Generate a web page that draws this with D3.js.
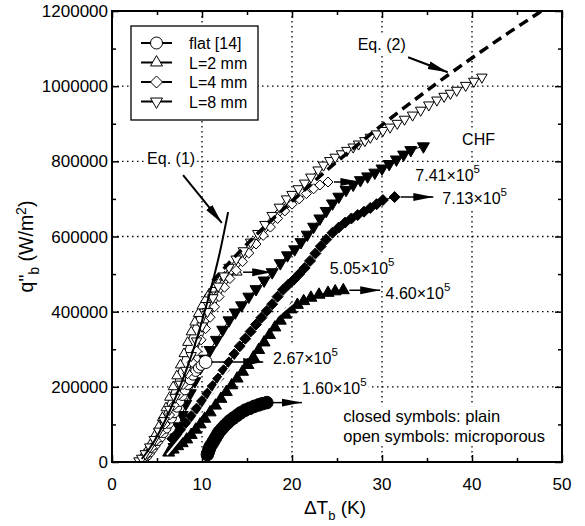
<!DOCTYPE html>
<html>
<head>
<meta charset="utf-8">
<script src="https://cdn.jsdelivr.net/npm/d3@7"></script>
<style>
  body { margin: 0; background: #fff; }
  text { font-family: "Liberation Sans", Arial, Helvetica, sans-serif; fill: #000; }
</style>
</head>
<body>
<svg id="chart" width="585" height="526"></svg>
<script>
// boiling curves, [deltaT (K), q (W/m2)]
const flatPlain = [[10.6,20000],[10.7,27000],[10.8,34000],[10.9,41000],[11.1,48000],[11.3,56000],[11.5,64000],
  [11.7,72000],[11.9,80000],[12.2,88000],[12.5,96000],[12.8,103000],[13.1,110000],[13.5,117000],[13.9,124000],
  [14.3,131000],[14.8,138000],[15.3,143000],[15.8,148000],[16.3,152000],[16.7,155000],[17.2,158000]];

const flatMicro = [[3.2,2000],[3.4,6000],[3.6,11000],[3.9,18000],[4.2,27000],[4.5,37000],[4.8,47000],[5.1,57000],
  [5.4,67000],[5.7,78000],[6.0,90000],[6.3,103000],[6.6,117000],[6.9,131000],[7.2,146000],[7.5,161000],
  [7.8,177000],[8.1,192000],[8.4,206000],[8.7,219000],[9.0,231000],[9.3,241000],[9.6,250000],[9.9,257000],[10.4,266000]];

const l2Plain = [[6.3,25000],[6.8,33000],[7.3,42000],[7.8,50000],[8.3,60000],[8.8,72000],[9.3,86000],[9.8,100000],
  [10.3,115000],[10.9,132000],[11.5,150000],[12.1,168000],[12.7,186000],[13.3,204000],[13.9,222000],[14.5,240000],
  [15.1,258000],[15.7,278000],[16.3,298000],[16.9,318000],[17.5,338000],[18.1,358000],[18.7,376000],[19.3,392000],
  [19.9,406000],[20.6,418000],[21.3,428000],[22.1,437000],[23.0,445000],[24.0,450000],[24.8,454000],[25.7,457000]];

const l2Micro = [[3.0,3000],[3.3,10000],[3.6,20000],[4.0,35000],[4.4,52000],[4.8,72000],[5.2,94000],[5.6,118000],
  [6.0,144000],[6.4,172000],[6.8,200000],[7.2,229000],[7.6,258000],[8.0,288000],[8.4,318000],[8.8,346000],
  [9.2,372000],[9.6,395000],[10.0,415000],[10.4,432000],[10.8,447000],[11.2,460000],[11.6,472000],[12.0,482000],
  [12.5,492000],[13.9,505000]];

const l4Plain = [[6.7,62000],[7.1,72000],[7.6,86000],[8.2,104000],[8.8,122000],[9.4,142000],[10.0,162000],
  [10.6,182000],[11.2,202000],[11.8,222000],[12.4,244000],[13.0,265000],[13.6,287000],[14.2,308000],[14.8,328000],
  [15.4,347000],[16.0,366000],[16.6,384000],[17.2,402000],[17.8,420000],[18.4,440000],[19.0,458000],[19.6,472000],
  [20.2,485000],[20.8,500000],[21.4,516000],[22.0,535000],[22.6,555000],[23.2,574000],[23.8,592000],[24.5,610000],
  [25.2,624000],[25.9,637000],[26.6,648000],[27.3,657000],[28.0,666000],[28.7,676000],[29.4,686000],[30.1,697000],
  [31.4,705000]];

const l4Micro = [[3.2,2000],[3.5,10000],[3.9,22000],[4.4,38000],[4.9,57000],[5.4,78000],[5.9,101000],[6.4,125000],
  [6.9,151000],[7.4,178000],[7.9,206000],[8.4,235000],[8.9,265000],[9.4,295000],[9.9,325000],[10.4,355000],
  [10.9,385000],[11.4,413000],[11.9,440000],[12.5,465000],[13.1,488000],[13.8,510000],[14.5,533000],[15.2,556000],
  [16.0,580000],[16.8,603000],[17.6,625000],[18.4,648000],[19.2,668000],[20.0,686000],[20.8,700000],[21.6,714000],
  [22.4,727000],[23.1,737000],[24.0,745000]];

const l8Plain = [[6.9,40000],[7.1,65000],[7.4,95000],[7.8,125000],[8.2,155000],[8.7,183000],[9.2,215000],
  [9.8,250000],[10.3,275000],[10.9,298000],[11.6,325000],[12.3,352000],[13.0,377000],[13.7,398000],[14.4,417000],
  [15.2,440000],[16.0,460000],[16.9,483000],[17.8,505000],[18.7,529000],[19.5,550000],[20.3,566000],[21.0,585000],
  [21.7,605000],[22.4,626000],[23.1,648000],[23.8,668000],[24.5,688000],[25.2,706000],[26.0,724000],[26.8,738000],
  [27.6,750000],[28.4,760000],[29.2,770000],[30.0,781000],[30.8,793000],[31.6,805000],[32.4,818000],[33.2,830000],
  [34.6,840000]];

const l8Micro = [[3.0,3000],[3.3,10000],[3.7,22000],[4.2,40000],[4.7,60000],[5.2,82000],[5.8,110000],[6.4,140000],
  [7.0,172000],[7.6,207000],[8.2,244000],[8.8,283000],[9.4,322000],[10.0,362000],[10.6,400000],[11.2,437000],
  [11.8,468000],[12.4,495000],[13.0,518000],[13.8,540000],[14.6,562000],[15.4,585000],[16.2,608000],[17.0,632000],
  [17.8,656000],[18.6,678000],[19.4,700000],[20.0,712000],[20.7,727000],[21.4,742000],[22.1,758000],[22.9,777000],
  [23.5,790000],[24.2,802000],[24.8,811000],[25.5,820000],[26.1,829000],[26.8,838000],[27.4,846000],[28.1,855000],
  [28.7,864000],[29.4,873000],[30.1,882000],[30.9,891000],[31.7,901000],[32.5,912000],[33.4,923000],[34.3,936000],
  [35.2,950000],[36.1,963000],[36.9,973000],[37.6,981000],[38.3,989000],[39.3,1002000],[40.2,1013000],[41.1,1024000]];

// correlations
const eq1 = [[3.3,8000],[4,30000],[5,68000],[6,115000],[7,168000],[8,228000],[9,296000],[10,375000],
  [11,462000],[12,560000],[12.9,665000]];
const eq2 = [[11.2,482000],[14,555000],[17,627000],[20,694000],[24,779000],[28,858000],[32,934000],
  [36,1006000],[40,1075000],[44,1141000],[48,1205000],[50,1240000]];
const whiteCurve = [[6.1,19000],[8,75000],[10,140000],[12,215000],[14,280000],[16,335000],[18,380000],[20.1,423000]];

// CHF values and where the arrows end (deltaT)
const chfValues = ["1.60", "2.67", "4.60", "5.05", "7.13", "7.41"];
const chfArrowEnd = [21.1, 16.8, 29.8, 17.8, 35.7, 27.6];

const xTicks = [0, 10, 20, 30, 40, 50];
const xMinor = [5, 15, 25, 35, 45];
const yTicks = [0, 200000, 400000, 600000, 800000, 1000000, 1200000];
const yMinor = [100000, 300000, 500000, 700000, 900000, 1100000];
const legendNames = ["flat [14]", "L=2 mm", "L=4 mm", "L=8 mm"];

const svg = d3.select("#chart");
const width = +svg.attr("width");
const height = +svg.attr("height");
const margin = {top: 11, right: 23, bottom: 64, left: 112};
const innerWidth = width - margin.left - margin.right;
const innerHeight = height - margin.top - margin.bottom;

const xScale = d3.scaleLinear().domain([0, 50]).range([0, innerWidth]);
const yScale = d3.scaleLinear().domain([0, 1200000]).range([innerHeight, 0]);

svg.append("rect").attr("width", width).attr("height", height).attr("fill", "#fff");

const g = svg.append("g").attr("transform", `translate(${margin.left},${margin.top})`);

const defs = svg.append("defs");
defs.append("clipPath").attr("id", "plotClip")
  .append("rect").attr("width", innerWidth).attr("height", innerHeight);
defs.append("marker")
  .attr("id", "arrowHead")
  .attr("markerUnits", "userSpaceOnUse")
  .attr("markerWidth", 22).attr("markerHeight", 10)
  .attr("refX", 20).attr("refY", 4.5)
  .attr("orient", "auto")
  .append("path").attr("d", "M0,0.5 L20,4.5 L0,8.5 Z").attr("fill", "#000");

// dotted grid
g.append("g").selectAll("line").data(xTicks.slice(1, -1)).join("line")
  .attr("x1", d => xScale(d)).attr("x2", d => xScale(d))
  .attr("y1", 0).attr("y2", innerHeight)
  .attr("stroke", "#000").attr("stroke-width", 1.3).attr("stroke-dasharray", "1.5,3.5");
g.append("g").selectAll("line").data(yTicks.slice(1, -1)).join("line")
  .attr("y1", d => yScale(d)).attr("y2", d => yScale(d))
  .attr("x1", 0).attr("x2", innerWidth)
  .attr("stroke", "#000").attr("stroke-width", 1.3).attr("stroke-dasharray", "1.5,3.5");

// symbols
const triArea = s => s * s * Math.sqrt(3) / 4;
function symbolPath(shape, s) {
  if (shape === "circle") return d3.symbol(d3.symbolCircle, Math.PI * s * s)();
  if (shape === "diamond") return `M0,${-s}L${s},0L0,${s}L${-s},0Z`;
  return d3.symbol(d3.symbolTriangle, triArea(s))();
}

const lineGen = d3.line().x(d => xScale(d[0])).y(d => yScale(d[1]));
const smoothGen = d3.line().x(d => xScale(d[0])).y(d => yScale(d[1])).curve(d3.curveMonotoneX);

const series = [
  {data: flatPlain, shape: "circle", size: 6.3, filled: true},
  {data: l2Plain, shape: "up", size: 12, filled: true},
  {data: l4Plain, shape: "diamond", size: 5.5, filled: true},
  {data: l8Plain, shape: "down", size: 12, filled: true},
  {data: flatMicro, shape: "circle", size: 5, filled: false},
  {data: l2Micro, shape: "up", size: 10, filled: false},
  {data: l4Micro, shape: "diamond", size: 5, filled: false},
  {data: l8Micro, shape: "down", size: 10.5, filled: false}
];

const plot = g.append("g").attr("clip-path", "url(#plotClip)");

series.forEach(s => {
  plot.append("path").datum(s.data)
    .attr("d", lineGen).attr("fill", "none").attr("stroke", "#000").attr("stroke-width", 1);
  plot.append("g").selectAll("path").data(s.data).join("path")
    .attr("d", (d, i) => symbolPath(s.shape, s.shape === "circle" && i === s.data.length - 1 && !s.filled ? 6.5 : s.size))
    .attr("transform", d => `translate(${xScale(d[0])},${yScale(d[1])})` + (s.shape === "down" ? " rotate(180)" : ""))
    .attr("fill", s.filled ? "#000" : "#fff")
    .attr("stroke", "#000").attr("stroke-width", 1);
});

plot.append("path").datum(whiteCurve)
  .attr("d", smoothGen).attr("fill", "none")
  .attr("stroke", "#fff").attr("stroke-width", 2);

plot.append("path").datum(eq1)
  .attr("d", smoothGen)
  .attr("fill", "none").attr("stroke", "#000").attr("stroke-width", 2);

plot.append("path").datum(eq2)
  .attr("d", smoothGen)
  .attr("fill", "none").attr("stroke", "#000").attr("stroke-width", 3.5)
  .attr("stroke-dasharray", "10,6");

// CHF arrows from the last point of each curve
const chfSeries = [flatPlain, flatMicro, l2Plain, l2Micro, l4Plain, l4Micro];
chfSeries.forEach((s, i) => {
  const last = s[s.length - 1];
  g.append("line")
    .attr("x1", xScale(last[0]) + 6).attr("y1", yScale(last[1]))
    .attr("x2", xScale(chfArrowEnd[i])).attr("y2", yScale(last[1]))
    .attr("stroke", "#000").attr("stroke-width", 1.5)
    .attr("marker-end", "url(#arrowHead)");
});

function arrow(x1, y1, x2, y2) {
  g.append("line")
    .attr("x1", xScale(x1)).attr("y1", yScale(y1))
    .attr("x2", xScale(x2)).attr("y2", yScale(y2))
    .attr("stroke", "#000").attr("stroke-width", 2)
    .attr("marker-end", "url(#arrowHead)");
}
arrow(7.9, 763000, 12.2, 636000);
arrow(32.9, 1077000, 37.3, 1037000);

function label(dx, dq, main, sup, size) {
  const grp = g.append("g");
  const t = grp.append("text")
    .attr("x", xScale(dx)).attr("y", yScale(dq))
    .style("font-size", (size || 16) + "px")
    .text(main);
  if (sup) t.append("tspan").attr("dy", -8).style("font-size", "11.5px").text(sup);
  const b = t.node().getBBox();
  grp.insert("rect", "text")
    .attr("x", b.x - 2).attr("y", b.y - 1).attr("width", b.width + 4).attr("height", b.height + 2)
    .attr("fill", "#fff");
}

// CHF labels: [deltaT, q] of the text baseline start
const chfLabelAt = [[21.1, 181000], [17.9, 261000], [30.4, 433000], [24.2, 500000], [36.7, 686000], [33.7, 747000]];
chfValues.forEach((v, i) => label(chfLabelAt[i][0], chfLabelAt[i][1], v + "\u00d710", "5"));
label(38.9, 843000, "CHF");
label(3.9, 793000, "Eq. (1)");
label(27.3, 1096000, "Eq. (2)");
label(25.7, 106000, "closed symbols: plain", null, 16.5);
label(25.7, 53000, "open symbols: microporous", null, 16.5);

// axes: d3 axes draw the inward ticks, labels are placed from the same scales
const tickOnly = sel => {
  sel.select(".domain").remove();
  sel.selectAll(".tick text").remove();
  sel.selectAll(".tick line").attr("stroke-width", 1.5);
};
g.append("g").call(d3.axisLeft(yScale).tickValues(yTicks).tickSize(-7)).call(tickOnly);
g.append("g").call(d3.axisLeft(yScale).tickValues(yMinor).tickSize(-4)).call(tickOnly);
g.append("g").attr("transform", `translate(${innerWidth},0)`)
  .call(d3.axisRight(yScale).tickValues(yTicks).tickSize(-7)).call(tickOnly);
g.append("g").attr("transform", `translate(${innerWidth},0)`)
  .call(d3.axisRight(yScale).tickValues(yMinor).tickSize(-4)).call(tickOnly);
g.append("g").attr("transform", `translate(0,${innerHeight})`)
  .call(d3.axisBottom(xScale).tickValues(xTicks).tickSize(-7)).call(tickOnly);
g.append("g").attr("transform", `translate(0,${innerHeight})`)
  .call(d3.axisBottom(xScale).tickValues(xMinor).tickSize(-4)).call(tickOnly);
g.append("g").call(d3.axisTop(xScale).tickValues(xTicks).tickSize(-7)).call(tickOnly);
g.append("g").call(d3.axisTop(xScale).tickValues(xMinor).tickSize(-4)).call(tickOnly);

const fmt = d3.format("d");
g.selectAll("text.ytick").data(yTicks).join("text")
  .attr("class", "ytick")
  .attr("x", -4).attr("y", d => yScale(d) + 6)
  .attr("text-anchor", "end").style("font-size", "17px")
  .text(fmt);
g.selectAll("text.xtick").data(xTicks).join("text")
  .attr("class", "xtick")
  .attr("x", d => xScale(d)).attr("y", innerHeight + 28)
  .attr("text-anchor", "middle").style("font-size", "17px")
  .text(fmt);

g.append("rect").attr("width", innerWidth).attr("height", innerHeight)
  .attr("fill", "none").attr("stroke", "#000").attr("stroke-width", 2);

// axis labels
const xLab = svg.append("text")
  .attr("x", margin.left + innerWidth / 2 - 2).attr("y", 514)
  .attr("text-anchor", "middle").style("font-size", "19px");
xLab.append("tspan").text("\u0394T");
xLab.append("tspan").attr("dy", 6).style("font-size", "13px").text("b");
xLab.append("tspan").attr("dy", -6).text(" (K)");

const yLab = svg.append("text")
  .attr("transform", `translate(33,${margin.top + innerHeight / 2 + 10}) rotate(-90)`)
  .attr("text-anchor", "middle").style("font-size", "19.5px");
yLab.append("tspan").text("q\"");
yLab.append("tspan").attr("dy", 6).style("font-size", "14px").text("b");
yLab.append("tspan").attr("dy", -6).text(" (W/m");
yLab.append("tspan").attr("dy", -7).style("font-size", "14px").text("2");
yLab.append("tspan").attr("dy", 7).text(")");

// legend
const legendX = 19, legendY = 15;
g.append("rect").attr("x", legendX).attr("y", legendY).attr("width", 127).attr("height", 94)
  .attr("fill", "#fff").attr("stroke", "#000").attr("stroke-width", 1.3);
const legendShapes = [["circle", 6], ["up", 12], ["diamond", 6], ["down", 12]];
legendNames.forEach((name, i) => {
  const ry = legendY + 17 + i * 19.5;
  g.append("line").attr("x1", legendX + 10).attr("x2", legendX + 41).attr("y1", ry).attr("y2", ry)
    .attr("stroke", "#000").attr("stroke-width", 2);
  g.append("path")
    .attr("d", symbolPath(legendShapes[i][0], legendShapes[i][1]))
    .attr("transform", `translate(${legendX + 25.5},${ry})` + (legendShapes[i][0] === "down" ? " rotate(180)" : ""))
    .attr("fill", "#fff").attr("stroke", "#000").attr("stroke-width", 1);
  g.append("text").attr("x", legendX + 58).attr("y", ry + 6).style("font-size", "16px").text(name);
});
</script>
</body>
</html>
